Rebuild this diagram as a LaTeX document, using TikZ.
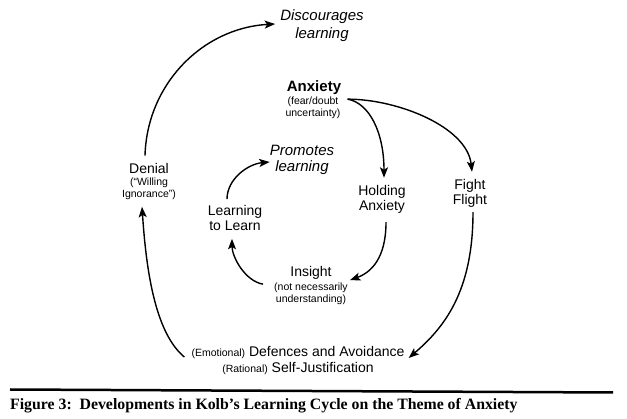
\documentclass[tikz,border=0pt]{standalone}
\usepackage{fontspec}
\setmainfont{Liberation Sans}
\newfontfamily\capfont{Liberation Serif}
\usetikzlibrary{arrows.meta}
\begin{document}
\begin{tikzpicture}[x=1pt,y=-1pt,
  conn/.style={line width=1.4pt,-{Stealth[length=10.5pt,width=8pt,inset=2.5pt]}},
  lab/.style={font=\fontsize{14}{15}\selectfont,align=center,inner sep=1pt},
  ital/.style={font=\fontsize{15}{17}\selectfont\itshape,align=center,inner sep=1pt},
  small/.style={font=\fontsize{10.5}{11.5}\selectfont,align=center,inner sep=1pt}]
\useasboundingbox[fill=white] (0,0) rectangle (627,419);

\node[ital,font=\fontsize{15}{18}\selectfont\itshape] (disc) at (322,26) {Discourages\\learning};
\node[lab,font=\fontsize{15}{16}\selectfont\bfseries] (anx) at (314,88) {Anxiety};
\node[small] (anxsub) at (313,108) {(fear/doubt\\uncertainty)};
\node[lab] (hold) at (382,199) {Holding\\Anxiety};
\node[lab] (fight) at (470,193) {Fight\\Flight};
\node[lab] (denial) at (149,168) {Denial};
\node[small] (denialsub) at (149,189) {(“Willing\\Ignorance”)};
\node[ital,font=\fontsize{15}{16}\selectfont\itshape] (prom) at (302,160) {Promotes\\learning};
\node[lab] (learn) at (235,218) {Learning\\to Learn};
\node[lab] (ins) at (311,273) {Insight};
\node[small] (inssub) at (311,294) {(not necessarily\\understanding)};
\node[lab,font=\fontsize{14}{16}\selectfont] (def) at (298,361)
  {{\fontsize{10.5}{11}\selectfont (Emotional)} Defences and Avoidance\\{\fontsize{10.5}{11}\selectfont (Rational)} Self-Justification};
\node[anchor=west,inner sep=0pt,font=\capfont\bfseries\fontsize{15.8}{17}\selectfont] (cap) at (10,406)
  {Figure 3:\ \ Developments in Kolb’s Learning Cycle on the Theme of Anxiety};

\coordinate (rl) at (10,389.5);
\coordinate (rr) at (613,392.5);
\draw[line width=2.5pt] (rl) -- (rr);

% Denial -> Discourages learning
\draw[conn] ([shift={(-4,-6)}]denial.north) .. controls +(2,-72) and +(-72,4) .. ([shift={(-4,-2)}]disc.west);
% Defences -> Denial
\draw[conn] ([shift={(-6,-4)}]def.west) .. controls +(-30,-25) and +(4,60) .. ([shift={(-7,6)}]denialsub.south);
% Anxiety -> Holding
\draw[conn] ([shift={(6,3)}]anxsub.north east) .. controls +(22,4) and +(0,-45) .. ([shift={(2,-6)}]hold.north);
% Anxiety -> Fight/Flight
\draw[conn] ([shift={(6,3)}]anxsub.north east) .. controls +(50,0) and +(-5,-45) .. ([shift={(2,-6)}]fight.north);
% Holding -> Insight
\draw[conn] ([shift={(4,8)}]hold.south) .. controls +(0,35) and +(22,-8) .. ([shift={(1,-2)}]inssub.north east);
% Insight -> Learning to Learn
\draw[conn] ([shift={(-10,2)}]inssub.north west) .. controls +(-18,-3) and +(0,18) .. ([shift={(-3,7)}]learn.south);
% Learning to Learn -> Promotes learning
\draw[conn] ([shift={(-8,-5)}]learn.north) .. controls +(0,-20) and +(-22,2) .. ([shift={(1,2)}]prom.west);
% Fight/Flight -> Defences
\draw[conn] ([shift={(3,4)}]fight.south) .. controls +(0,80) and +(35,-30) .. ([shift={(3,-3)}]def.east);
\end{tikzpicture}
\end{document}
